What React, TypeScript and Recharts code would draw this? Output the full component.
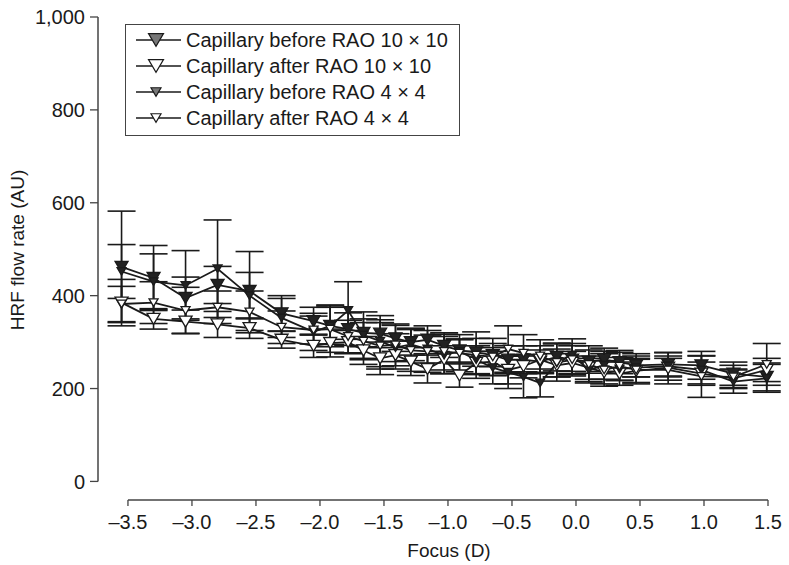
import React from 'react';
import { ComposedChart, Line, XAxis, YAxis, ErrorBar, ReferenceLine, Legend, Label } from 'recharts';

// focus positions (D)
const focus = [
  -3.55, -3.3, -3.05, -2.8, -2.55, -2.3, -2.05, -1.92, -1.78, -1.66, -1.53, -1.41, -1.29, -1.16, -1.03,
  -0.91, -0.78, -0.65, -0.53, -0.41, -0.28, -0.15, -0.03, 0.1, 0.22, 0.34, 0.47, 0.72, 0.98, 1.23, 1.49,
];

const beforeRao10 = [
  462, 438, 395, 423, 410, 362, 345, 335, 328, 320, 318, 308, 300, 305, 292,
  282, 278, 272, 262, 262, 258, 268, 262, 258, 262, 257, 250, 252, 250, 232, 225,
];
const beforeRao10Err = [
  120, 70, 45, 40, 85, 38, 30, 40, 35, 30, 30, 28, 28, 30, 25,
  25, 30, 25, 30, 30, 25, 30, 30, 25, 25, 25, 25, 25, 30, 25, 30,
];

const afterRao10 = [
  385, 350, 344, 338, 330, 305, 292, 298, 300, 282, 265, 272, 258, 242, 262,
  228, 255, 258, 240, 248, 262, 250, 255, 245, 235, 232, 238, 245, 232, 222, 240,
];
const afterRao10Err = [
  50, 22, 25, 28, 22, 18, 25, 30, 25, 30, 35, 30, 30, 30, 30,
  25, 25, 30, 30, 25, 30, 25, 25, 25, 25, 25, 25, 20, 25, 20, 25,
];

const beforeRao4 = [
  452, 430, 422, 458, 400, 352, 322, 335, 368, 315, 302, 288, 295, 285, 272,
  280, 262, 245, 235, 225, 212, 255, 272, 240, 250, 242, 245, 248, 240, 215, 222,
];
const beforeRao4Err = [
  58, 60, 75, 105, 50, 42, 40, 45, 62, 50, 55, 30, 35, 30, 40,
  25, 30, 35, 35, 45, 30, 30, 35, 25, 30, 25, 20, 30, 30, 25, 30,
];

const afterRao4 = [
  382, 385, 368, 375, 365, 332, 326, 328, 312, 302, 292, 294, 282, 280, 280,
  276, 272, 268, 285, 276, 270, 256, 262, 252, 240, 248, 240, 240, 226, 225, 252,
];
const afterRao4Err = [
  38, 45, 50, 35, 45, 35, 30, 50, 35, 40, 50, 45, 45, 45, 40,
  40, 50, 40, 50, 40, 35, 40, 35, 40, 35, 30, 30, 30, 45, 25, 45,
];

const xTicks = [-3.5, -3.0, -2.5, -2.0, -1.5, -1.0, -0.5, 0.0, 0.5, 1.0, 1.5];
const yTicks = [0, 200, 400, 600, 800, 1000];

const legendItems = [
  { label: 'Capillary before RAO 10 × 10', size: 15, fill: '#777' },
  { label: 'Capillary after RAO 10 × 10', size: 15, fill: '#fff' },
  { label: 'Capillary before RAO 4 × 4', size: 10, fill: '#777' },
  { label: 'Capillary after RAO 4 × 4', size: 10, fill: '#fff' },
];

const data = focus.map((f, i) => ({
  focus: f,
  b10: beforeRao10[i],
  b10Err: beforeRao10Err[i],
  a10: afterRao10[i],
  a10Err: afterRao10Err[i],
  b4: beforeRao4[i],
  b4Err: beforeRao4Err[i],
  a4: afterRao4[i],
  a4Err: afterRao4Err[i],
}));

const FONT = '"Liberation Sans", Arial, sans-serif';
const INK = '#1a1a1a';
const X_MIN = -3.734;

const triPath = (cx: number, cy: number, w: number) => {
  const h = w * 0.85;
  return `M${cx - w / 2},${cy - h / 2}L${cx + w / 2},${cy - h / 2}L${cx},${cy + h / 2}Z`;
};

const triDot = (w: number, fill: string) => (props: any) => {
  const { cx, cy, index } = props;
  if (cx == null || cy == null) return <g key={index} />;
  return <path key={index} d={triPath(cx, cy, w)} fill={fill} stroke={INK} strokeWidth={1.3} />;
};

const fmtX = (v: number) => (v < 0 ? `–${Math.abs(v).toFixed(1)}` : v.toFixed(1));
const fmtY = (v: number) => v.toLocaleString('en-US');

const LegendBox = () => (
  <div
    style={{
      border: '1px solid #444',
      width: 335,
      padding: '2px 0 4px 0',
      background: '#fff',
      fontFamily: FONT,
      fontSize: 20,
      color: INK,
      boxSizing: 'border-box',
    }}
  >
    {legendItems.map((it) => (
      <div key={it.label} style={{ display: 'flex', alignItems: 'center', height: 26 }}>
        <svg width={45} height={16} style={{ marginLeft: 10, marginRight: 5, flexShrink: 0 }}>
          <line x1={0} y1={8} x2={45} y2={8} stroke={INK} strokeWidth={1.5} />
          <path d={triPath(20, 8, it.size)} fill={it.fill} stroke={INK} strokeWidth={1.2} />
        </svg>
        <span style={{ whiteSpace: 'nowrap' }}>{it.label}</span>
      </div>
    ))}
  </div>
);

const series = [
  { key: 'b10', err: 'b10Err', size: 13, fill: '#222' },
  { key: 'a10', err: 'a10Err', size: 13, fill: '#fff' },
  { key: 'b4', err: 'b4Err', size: 9, fill: '#222' },
  { key: 'a4', err: 'a4Err', size: 9, fill: '#fff' },
];

export default function App() {
  return (
    <div style={{ position: 'absolute', left: 0, top: 0, background: '#fff' }}>
      <ComposedChart
        width={789}
        height={565}
        data={data}
        margin={{ top: 17, right: 21, bottom: 15, left: 18 }}
      >
        <XAxis
          dataKey="focus"
          type="number"
          domain={[X_MIN, 1.5]}
          ticks={xTicks}
          tickFormatter={fmtX}
          axisLine={false}
          tickLine={{ stroke: '#444', strokeWidth: 1.3 }}
          tickSize={6}
          tickMargin={9}
          height={50}
          interval={0}
          tick={{ fontSize: 20, fill: INK, fontFamily: FONT }}
        >
          <Label
            content={() => (
              <text x={449} y={557} textAnchor="middle" fontSize={19} fill={INK} fontFamily={FONT}>
                Focus (D)
              </text>
            )}
          />
        </XAxis>
        <YAxis
          type="number"
          domain={[-40, 1000]}
          ticks={yTicks}
          tickFormatter={fmtY}
          axisLine={false}
          tickLine={{ stroke: '#444', strokeWidth: 1.3 }}
          tickSize={8}
          tickMargin={5}
          width={80}
          interval={0}
          tick={{ fontSize: 20, fill: INK, fontFamily: FONT }}
        >
          <Label
            content={() => (
              <text
                x={24}
                y={250}
                textAnchor="middle"
                fontSize={19}
                fill={INK}
                fontFamily={FONT}
                transform="rotate(-90, 24, 250)"
              >
                HRF flow rate (AU)
              </text>
            )}
          />
        </YAxis>
        <ReferenceLine
          segment={[{ x: X_MIN, y: 0 }, { x: X_MIN, y: 1000 }]}
          stroke="#444"
          strokeWidth={1.5}
          ifOverflow="visible"
        />
        <ReferenceLine
          segment={[{ x: -3.5, y: -40 }, { x: 1.5, y: -40 }]}
          stroke="#444"
          strokeWidth={1.5}
          ifOverflow="visible"
        />
        {series.map((s) => (
          <Line
            key={s.key}
            dataKey={s.key}
            type="linear"
            stroke={INK}
            strokeWidth={1.8}
            dot={triDot(s.size, s.fill)}
            activeDot={false}
            isAnimationActive={false}
          >
            <ErrorBar dataKey={s.err} direction="y" width={14} stroke={INK} strokeWidth={1.6} />
          </Line>
        ))}
        <Legend
          layout="vertical"
          align="center"
          verticalAlign="middle"
          content={() => <LegendBox />}
          wrapperStyle={{ left: 125, top: 24, width: 335 }}
        />
      </ComposedChart>
    </div>
  );
}
